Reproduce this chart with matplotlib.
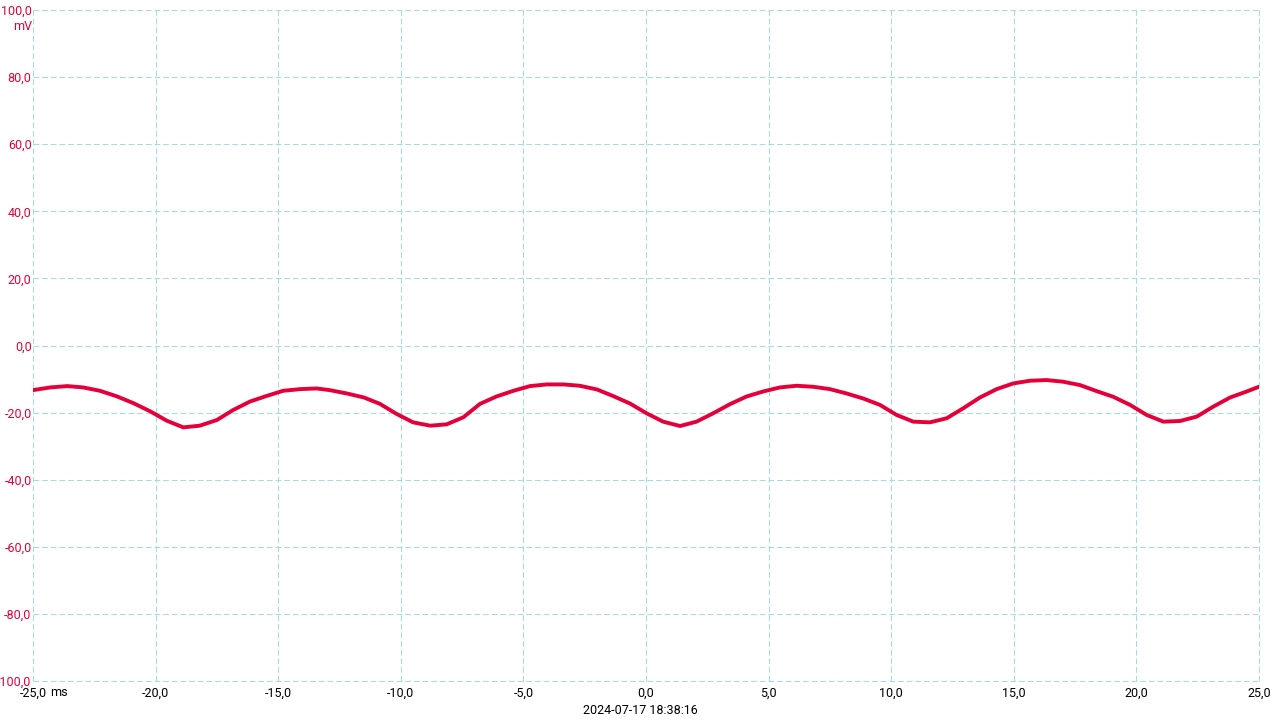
import matplotlib
matplotlib.use("Agg")
import matplotlib.pyplot as plt
from matplotlib.transforms import offset_copy

# time (ms) and voltage (mV)
t_ms = [-25.0, -24.3, -23.6, -22.95, -22.27, -21.6, -20.9, -20.2, -19.55, -18.87,
        -18.2, -17.5, -16.83, -16.15, -15.5, -14.8, -14.1, -13.44, -12.9, -12.2,
        -11.5, -10.85, -10.17, -9.5, -8.8, -8.13, -7.45, -6.77, -6.1, -5.41,
        -4.73, -4.05, -3.37, -2.7, -2.0, -1.33, -0.65, 0.02, 0.7, 1.39,
        2.06, 2.74, 3.42, 4.1, 4.78, 5.46, 6.14, 6.82, 7.5, 8.18,
        8.86, 9.54, 10.22, 10.9, 11.58, 12.26, 12.94, 13.62, 14.3, 14.98,
        15.66, 16.34, 17.02, 17.7, 18.38, 19.06, 19.74, 20.42, 21.1, 21.78,
        22.46, 23.14, 23.82, 24.5, 25.0]
v_mV = [-13.3, -12.5, -12.1, -12.5, -13.5, -15.1, -17.2, -19.7, -22.4, -24.4,
        -23.9, -22.2, -19.2, -16.7, -15.1, -13.5, -13.0, -12.8, -13.3, -14.3,
        -15.5, -17.4, -20.4, -22.9, -23.9, -23.5, -21.4, -17.4, -15.2, -13.5,
        -12.1, -11.6, -11.6, -12.0, -13.1, -15.1, -17.3, -20.2, -22.7, -24.0,
        -22.7, -20.2, -17.5, -15.2, -13.7, -12.5, -12.0, -12.3, -13.0, -14.3,
        -15.8, -17.7, -20.7, -22.7, -22.9, -21.7, -18.7, -15.5, -13.0, -11.3,
        -10.5, -10.3, -10.8, -11.8, -13.6, -15.3, -17.7, -20.7, -22.7, -22.5,
        -21.2, -18.2, -15.5, -13.7, -12.3]

x_ticks = [-25, -20, -15, -10, -5, 0, 5, 10, 15, 20, 25]
x_labels = ["-25,0", "-20,0", "-15,0", "-10,0", "-5,0", "0,0", "5,0", "10,0", "15,0", "20,0", "25,0"]
y_ticks = [-100, -80, -60, -40, -20, 0, 20, 40, 60, 80, 100]
y_labels = ["-100,0", "-80,0", "-60,0", "-40,0", "-20,0", "0,0", "20,0", "40,0", "60,0", "80,0", "100,0"]
x_unit = "ms"
y_unit = "mV"
timestamp = "2024-07-17 18:38:16"

RED = "#e5003a"
GRID = "#a6dbe6"

plt.rcParams["font.family"] = ["Roboto", "DejaVu Sans"]

fig = plt.figure(figsize=(12.8, 7.2), dpi=100)
ax = fig.add_axes([33 / 1280, 1 - 681 / 720, (1259 - 33) / 1280, (681 - 10) / 720])

ax.plot(t_ms, v_mV, color=RED, lw=2.8, solid_joinstyle="round", zorder=3)

ax.set_xlim(-25, 25)
ax.set_ylim(-100, 100)
ax.set_xticks(x_ticks)
ax.set_xticklabels(x_labels)
ax.set_yticks(y_ticks)
ax.set_yticklabels(y_labels)

for s in ax.spines.values():
    s.set_visible(False)

ax.tick_params(axis="both", length=0, labelsize=9)
ax.tick_params(axis="x", pad=4, colors="black")
ax.tick_params(axis="y", pad=1, labelcolor=RED)

dash = (0, (5.5, 2.8))
for xv in x_ticks:
    ax.axvline(xv, color=GRID, lw=0.75, ls=dash, zorder=1, clip_on=False)
for yv in y_ticks:
    ax.axhline(yv, color=GRID, lw=0.75, ls=dash, zorder=1, clip_on=False)

# unit labels
tr = offset_copy(ax.get_xaxis_transform(), fig=fig, x=17, y=-5.5, units="dots")
ax.text(-25, 0, x_unit, transform=tr, ha="left", va="top", fontsize=9, color="black")
tr2 = offset_copy(ax.get_yaxis_transform(), fig=fig, x=-1, y=-17, units="dots")
ax.text(0, 100, y_unit, transform=tr2, ha="right", va="center", fontsize=9, color=RED)

fig.text(640 / 1280, 1 - 710 / 720, timestamp, ha="center", va="center", fontsize=9, color="black")

fig.savefig("out.png", dpi=100, facecolor="white")
